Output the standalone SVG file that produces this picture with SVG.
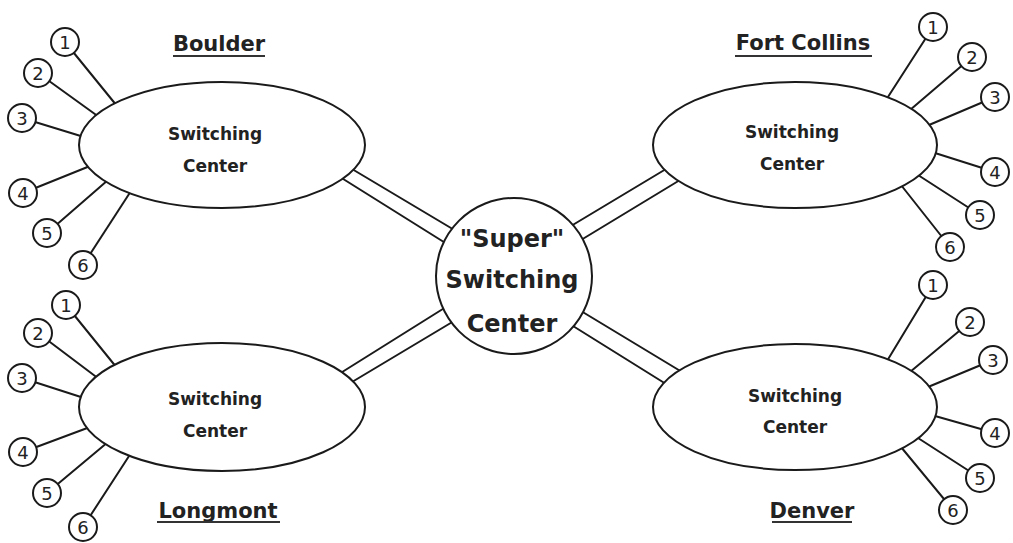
<svg xmlns="http://www.w3.org/2000/svg" width="1013" height="543" viewBox="0 0 1013 543">
<style>
.ln{stroke:#1a1a1a;stroke-width:2;fill:none;stroke-linecap:round}
.sh{stroke:#1a1a1a;stroke-width:2;fill:#fff}
.t{font-family:"DejaVu Sans",sans-serif;font-weight:bold;fill:#222;text-anchor:middle}
.sc{font-size:17px}
.big{font-size:24px}
.lab{font-size:21px}
.num{font-size:18px;font-weight:normal}
.ul{stroke:#333;stroke-width:2}
</style>
<rect width="1013" height="543" fill="#fff"/>
<g id="connectors">
<line class="ln" x1="352" y1="169" x2="456" y2="231"/>
<line class="ln" x1="340" y1="177" x2="447" y2="244"/>
<line class="ln" x1="571" y1="226" x2="666" y2="169"/>
<line class="ln" x1="581" y1="240" x2="680" y2="180"/>
<line class="ln" x1="446" y1="307" x2="339" y2="374"/>
<line class="ln" x1="454" y1="321" x2="352" y2="382"/>
<line class="ln" x1="581" y1="311" x2="682" y2="372"/>
<line class="ln" x1="573" y1="326" x2="666" y2="384"/>
<line class="ln" x1="65" y1="42" x2="117" y2="106"/>
<line class="ln" x1="38" y1="73" x2="99" y2="117"/>
<line class="ln" x1="22" y1="118" x2="84" y2="137"/>
<line class="ln" x1="23" y1="193" x2="90" y2="166"/>
<line class="ln" x1="47" y1="233" x2="108" y2="180"/>
<line class="ln" x1="83" y1="265" x2="131" y2="191"/>
<line class="ln" x1="66" y1="305" x2="117" y2="368"/>
<line class="ln" x1="38" y1="333" x2="99" y2="379"/>
<line class="ln" x1="22" y1="378" x2="84" y2="398"/>
<line class="ln" x1="23" y1="452" x2="90" y2="427"/>
<line class="ln" x1="47" y1="493" x2="108" y2="442"/>
<line class="ln" x1="83" y1="527" x2="131" y2="453"/>
<line class="ln" x1="933" y1="27" x2="886" y2="100"/>
<line class="ln" x1="972" y1="57" x2="910" y2="110"/>
<line class="ln" x1="995" y1="97" x2="929" y2="125"/>
<line class="ln" x1="995" y1="172" x2="935" y2="153"/>
<line class="ln" x1="980" y1="215" x2="918" y2="175"/>
<line class="ln" x1="950" y1="247" x2="901" y2="185"/>
<line class="ln" x1="933" y1="285" x2="887" y2="361"/>
<line class="ln" x1="970" y1="322" x2="910" y2="372"/>
<line class="ln" x1="993" y1="360" x2="928" y2="387"/>
<line class="ln" x1="995" y1="433" x2="935" y2="416"/>
<line class="ln" x1="980" y1="478" x2="918" y2="438"/>
<line class="ln" x1="953" y1="510" x2="901" y2="447"/>
</g>
<g id="super">
<circle class="sh" cx="514" cy="276" r="78"/>
<text class="t big" x="512" y="247">"Super"</text>
<text class="t big" x="512" y="288">Switching</text>
<text class="t big" x="512" y="332">Center</text>
</g>
<g id="boulder">
<ellipse class="sh" cx="222" cy="145" rx="143" ry="63"/>
<text class="t sc" x="215" y="140">Switching</text>
<text class="t sc" x="215" y="172">Center</text>
<text class="t lab" x="219" y="51">Boulder</text>
<line class="ul" x1="173" y1="56" x2="265" y2="56"/>
</g>
<g id="longmont">
<ellipse class="sh" cx="222" cy="407" rx="143" ry="64"/>
<text class="t sc" x="215" y="405">Switching</text>
<text class="t sc" x="215" y="437">Center</text>
<text class="t lab" x="218" y="518">Longmont</text>
<line class="ul" x1="157" y1="522" x2="280" y2="522"/>
</g>
<g id="fortcollins">
<ellipse class="sh" cx="795" cy="145" rx="142" ry="63"/>
<text class="t sc" x="792" y="138">Switching</text>
<text class="t sc" x="792" y="170">Center</text>
<text class="t lab" x="803" y="50">Fort Collins</text>
<line class="ul" x1="735" y1="56" x2="872" y2="56"/>
</g>
<g id="denver">
<ellipse class="sh" cx="795" cy="407" rx="142" ry="63"/>
<text class="t sc" x="795" y="402">Switching</text>
<text class="t sc" x="795" y="433">Center</text>
<text class="t lab" x="812" y="518">Denver</text>
<line class="ul" x1="772" y1="522" x2="852" y2="522"/>
</g>
<g id="boulder-lines">
<circle class="sh" cx="65" cy="42" r="14"/><text class="t num" x="65" y="48.5">1</text>
<circle class="sh" cx="38" cy="73" r="14"/><text class="t num" x="38" y="79.5">2</text>
<circle class="sh" cx="22" cy="118" r="14"/><text class="t num" x="22" y="124.5">3</text>
<circle class="sh" cx="23" cy="193" r="14"/><text class="t num" x="23" y="199.5">4</text>
<circle class="sh" cx="47" cy="233" r="14"/><text class="t num" x="47" y="239.5">5</text>
<circle class="sh" cx="83" cy="265" r="14"/><text class="t num" x="83" y="271.5">6</text>
</g>
<g id="longmont-lines">
<circle class="sh" cx="66" cy="305" r="14"/><text class="t num" x="66" y="311.5">1</text>
<circle class="sh" cx="38" cy="333" r="14"/><text class="t num" x="38" y="339.5">2</text>
<circle class="sh" cx="22" cy="378" r="14"/><text class="t num" x="22" y="384.5">3</text>
<circle class="sh" cx="23" cy="452" r="14"/><text class="t num" x="23" y="458.5">4</text>
<circle class="sh" cx="47" cy="493" r="14"/><text class="t num" x="47" y="499.5">5</text>
<circle class="sh" cx="83" cy="527" r="14"/><text class="t num" x="83" y="533.5">6</text>
</g>
<g id="fortcollins-lines">
<circle class="sh" cx="933" cy="27" r="14"/><text class="t num" x="933" y="33.5">1</text>
<circle class="sh" cx="972" cy="57" r="14"/><text class="t num" x="972" y="63.5">2</text>
<circle class="sh" cx="995" cy="97" r="14"/><text class="t num" x="995" y="103.5">3</text>
<circle class="sh" cx="995" cy="172" r="14"/><text class="t num" x="995" y="178.5">4</text>
<circle class="sh" cx="980" cy="215" r="14"/><text class="t num" x="980" y="221.5">5</text>
<circle class="sh" cx="950" cy="247" r="14"/><text class="t num" x="950" y="253.5">6</text>
</g>
<g id="denver-lines">
<circle class="sh" cx="933" cy="285" r="14"/><text class="t num" x="933" y="291.5">1</text>
<circle class="sh" cx="970" cy="322" r="14"/><text class="t num" x="970" y="328.5">2</text>
<circle class="sh" cx="993" cy="360" r="14"/><text class="t num" x="993" y="366.5">3</text>
<circle class="sh" cx="995" cy="433" r="14"/><text class="t num" x="995" y="439.5">4</text>
<circle class="sh" cx="980" cy="478" r="14"/><text class="t num" x="980" y="484.5">5</text>
<circle class="sh" cx="953" cy="510" r="14"/><text class="t num" x="953" y="516.5">6</text>
</g>
</svg>
